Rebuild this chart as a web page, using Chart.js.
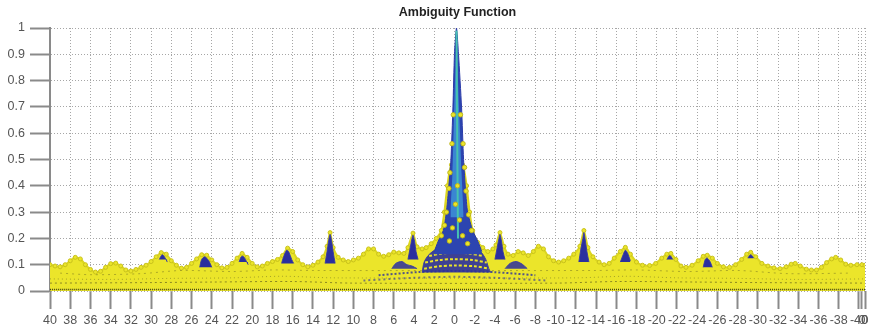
<!DOCTYPE html>
<html>
<head>
<meta charset="utf-8">
<script src="https://cdn.jsdelivr.net/npm/chart.js@4"></script>
<style>
  html, body { margin: 0; padding: 0; background: #fff; }
  #wrap { width: 882px; height: 331px; }
</style>
</head>
<body>
<div id="wrap"><canvas id="ambiguity" width="882" height="331"></canvas></div>
<script>
// Ambiguity function, side view (delay axis runs 40 .. -40)

const chartTitle = 'Ambiguity Function';

const xTickValues = [40, 38, 36, 34, 32, 30, 28, 26, 24, 22, 20, 18, 16, 14, 12, 10, 8, 6, 4, 2, 0,
  -2, -4, -6, -8, -10, -12, -14, -16, -18, -20, -22, -24, -26, -28, -30, -32, -34, -36, -38, -40, -40.3, -40.6];
const xTickLabels = ['40', '38', '36', '34', '32', '30', '28', '26', '24', '22', '20', '18', '16', '14', '12', '10', '8', '6', '4', '2', '0',
  '-2', '-4', '-6', '-8', '-10', '-12', '-14', '-16', '-18', '-20', '-22', '-24', '-26', '-28', '-30', '-32', '-34', '-36', '-38', '-40', '0', '0'];

// outline of the yellow side-lobe floor
const yellowEdge = [
  [40.0, 0.100], [39.5, 0.095], [39.0, 0.092], [38.5, 0.100], [38.0, 0.115], [37.5, 0.128], [37.0, 0.122],
  [36.5, 0.100], [36.0, 0.082], [35.5, 0.072], [35.0, 0.075], [34.5, 0.090], [34.0, 0.104], [33.5, 0.106],
  [33.0, 0.095], [32.5, 0.080], [32.0, 0.076], [31.5, 0.082], [31.0, 0.090], [30.5, 0.098], [30.0, 0.112],
  [29.5, 0.130], [29.0, 0.146], [28.5, 0.140], [28.0, 0.115], [27.5, 0.098], [27.0, 0.087], [26.5, 0.090],
  [26.0, 0.105], [25.5, 0.122], [25.0, 0.138], [24.5, 0.136], [24.0, 0.118], [23.5, 0.100], [23.0, 0.088],
  [22.5, 0.090], [22.0, 0.105], [21.5, 0.125], [21.0, 0.143], [20.5, 0.128], [20.0, 0.105], [19.5, 0.092],
  [19.0, 0.095], [18.5, 0.105], [18.0, 0.112], [17.5, 0.120], [17.0, 0.135], [16.5, 0.163], [16.0, 0.150],
  [15.5, 0.118], [15.0, 0.100], [14.5, 0.092], [14.0, 0.098], [13.5, 0.110], [13.0, 0.130], [12.6, 0.170],
  [12.3, 0.222], [12.0, 0.165], [11.5, 0.128], [11.0, 0.118], [10.5, 0.112], [10.0, 0.118], [9.5, 0.125],
  [9.0, 0.140], [8.5, 0.160], [8.0, 0.160], [7.5, 0.140], [7.0, 0.132], [6.5, 0.138], [6.0, 0.148],
  [5.5, 0.145], [5.0, 0.143], [4.6, 0.165], [4.1, 0.220], [3.7, 0.168], [3.2, 0.160], [2.8, 0.165],
  [2.3, 0.180], [1.8, 0.200], [1.3, 0.230], [1.0, 0.300], [0.7, 0.400], [0.3, 0.480], [-0.8, 0.480],
  [-1.2, 0.400], [-1.5, 0.300], [-1.8, 0.230], [-2.3, 0.185], [-2.8, 0.165], [-3.3, 0.150], [-3.8, 0.160],
  [-4.1, 0.175], [-4.5, 0.222], [-4.9, 0.170], [-5.3, 0.140], [-5.8, 0.135], [-6.3, 0.150], [-6.8, 0.145],
  [-7.3, 0.135], [-7.8, 0.150], [-8.3, 0.170], [-8.8, 0.160], [-9.3, 0.130], [-9.8, 0.115], [-10.3, 0.110],
  [-10.8, 0.115], [-11.3, 0.125], [-11.8, 0.140], [-12.4, 0.170], [-12.8, 0.230], [-13.2, 0.165], [-13.7, 0.130],
  [-14.3, 0.110], [-14.8, 0.100], [-15.3, 0.105], [-15.8, 0.125], [-16.4, 0.150], [-16.9, 0.166], [-17.4, 0.140],
  [-18.0, 0.110], [-18.6, 0.098], [-19.3, 0.097], [-19.9, 0.105], [-20.5, 0.125], [-21.0, 0.140], [-21.4, 0.143],
  [-21.9, 0.120], [-22.4, 0.095], [-22.9, 0.090], [-23.5, 0.098], [-24.1, 0.115], [-24.6, 0.132], [-25.0, 0.136],
  [-25.5, 0.125], [-26.0, 0.105], [-26.6, 0.092], [-27.2, 0.090], [-27.8, 0.100], [-28.4, 0.120], [-28.9, 0.140],
  [-29.3, 0.147], [-29.8, 0.130], [-30.4, 0.105], [-31.0, 0.095], [-31.6, 0.088], [-32.2, 0.085], [-32.8, 0.092],
  [-33.3, 0.102], [-33.7, 0.105], [-34.2, 0.095], [-34.8, 0.083], [-35.3, 0.080], [-35.8, 0.080], [-36.3, 0.090],
  [-36.8, 0.108], [-37.3, 0.122], [-37.7, 0.128], [-38.2, 0.118], [-38.7, 0.102], [-39.2, 0.098], [-39.8, 0.100],
  [-40.3, 0.100], [-40.6, 0.098]
];

// main lobe around zero delay
const mainLobe = [
  [2.0, 0.150], [1.6, 0.190], [1.1, 0.230], [0.8, 0.300], [0.6, 0.380], [0.35, 0.500], [0.15, 0.700],
  [0.0, 0.900], [-0.2, 1.000], [-0.4, 0.900], [-0.7, 0.700], [-0.9, 0.500], [-1.1, 0.380], [-1.3, 0.300],
  [-1.8, 0.230], [-2.3, 0.190], [-2.7, 0.150]
];
const mainLobeCore = [
  [0.4, 0.300], [0.2, 0.450], [0.05, 0.650], [-0.1, 0.850], [-0.2, 0.960], [-0.3, 0.850], [-0.5, 0.650],
  [-0.7, 0.450], [-0.9, 0.300]
];
const mainLobeRidge = [[-0.35, 0.20], [-0.3, 0.45], [-0.25, 0.70], [-0.22, 0.90], [-0.2, 0.99]];
const lobeDots = [
  [0.55, 0.39], [0.45, 0.45], [0.25, 0.56], [0.12, 0.67], [0.8, 0.30], [1.0, 0.25], [1.3, 0.21],
  [-0.6, 0.67], [-0.85, 0.56], [-1.0, 0.47], [-1.15, 0.38], [-1.4, 0.29], [-1.7, 0.23],
  [-0.3, 0.40], [-0.1, 0.33], [-0.5, 0.27], [0.2, 0.24], [-0.8, 0.21], [0.5, 0.19], [-1.3, 0.18]
];

// blue side-lobe peaks
const blueDome = [
  [3.2, 0.070], [3.0, 0.110], [2.6, 0.135], [2.1, 0.152], [1.6, 0.165], [1.0, 0.175], [-1.6, 0.175],
  [-2.2, 0.162], [-2.7, 0.145], [-3.1, 0.120], [-3.4, 0.085], [-3.6, 0.070]
];
const blueFlankLeft = [[6.2, 0.085], [5.8, 0.105], [5.2, 0.112], [4.7, 0.100], [4.2, 0.095], [3.7, 0.085]];
const blueFlankRight = [[-5.0, 0.085], [-5.5, 0.105], [-6.1, 0.112], [-6.7, 0.102], [-7.2, 0.085]];
const blueSpike12 = [[12.8, 0.105], [12.6, 0.15], [12.45, 0.19], [12.3, 0.215], [12.15, 0.19], [12.0, 0.15], [11.8, 0.105]];
const blueSpike4 = [[4.6, 0.12], [4.4, 0.16], [4.2, 0.20], [4.1, 0.212], [3.95, 0.19], [3.8, 0.15], [3.6, 0.12]];
const blueSpikeM4 = [[-4.0, 0.12], [-4.2, 0.16], [-4.4, 0.20], [-4.5, 0.215], [-4.65, 0.19], [-4.8, 0.15], [-5.0, 0.12]];
const blueSpikeM12 = [[-12.3, 0.11], [-12.5, 0.16], [-12.7, 0.20], [-12.8, 0.222], [-12.95, 0.19], [-13.1, 0.15], [-13.3, 0.11]];
const blueBlob16 = [[17.1, 0.105], [16.9, 0.13], [16.6, 0.155], [16.4, 0.15], [16.1, 0.12], [15.9, 0.105]];
const blueBlob21 = [[21.3, 0.11], [21.1, 0.13], [20.9, 0.132], [20.6, 0.115], [20.4, 0.10]];
const blueBlob24 = [[25.2, 0.09], [25.0, 0.12], [24.7, 0.13], [24.3, 0.115], [24.0, 0.09]];
const blueBlob29 = [[29.2, 0.12], [28.9, 0.138], [28.6, 0.125], [28.4, 0.11]];
const blueBlobM17 = [[-16.4, 0.11], [-16.7, 0.14], [-16.9, 0.155], [-17.1, 0.145], [-17.4, 0.115]];
const blueBlobM21 = [[-21.0, 0.12], [-21.3, 0.135], [-21.6, 0.12]];
const blueBlobM25 = [[-24.6, 0.09], [-24.8, 0.12], [-25.0, 0.125], [-25.3, 0.11], [-25.5, 0.09]];
const blueBlobM29 = [[-29.0, 0.125], [-29.3, 0.138], [-29.6, 0.125]];

// mesh rows seen through the surface
const domeRowA = [[3.0, 0.085], [1.5, 0.094], [0, 0.097], [-2, 0.094], [-3.4, 0.085]];
const domeRowB = [[2.9, 0.108], [1.5, 0.118], [0, 0.121], [-1.8, 0.118], [-3.2, 0.108]];
const domeRowC = [[2.5, 0.133], [1.2, 0.143], [0, 0.146], [-1.4, 0.143], [-2.8, 0.133]];
const domeRowD = [[2.0, 0.155], [0.8, 0.163], [-1.0, 0.163], [-2.2, 0.155]];
const centreRowDark = [[7.5, 0.060], [3.5, 0.072], [0, 0.076], [-3.8, 0.072], [-8, 0.060]];
const centreRowDark2 = [[9, 0.040], [4, 0.050], [0, 0.054], [-4, 0.050], [-9, 0.040]];
const meshFloor = [[40, 0.006], [-40.6, 0.006]];
const meshRowLow = [[40, 0.030], [30, 0.032], [24, 0.034], [16, 0.036], [10, 0.030], [-10, 0.030],
  [-16, 0.036], [-24, 0.034], [-30, 0.032], [-40.6, 0.030]];
const meshRowMid = [[40, 0.046], [34, 0.044], [28, 0.048], [22, 0.050], [17, 0.056], [12, 0.050],
  [-12, 0.050], [-17, 0.056], [-22, 0.050], [-28, 0.048], [-34, 0.044], [-40.6, 0.046]];
const meshRowHigh = [[39, 0.068], [36, 0.062], [31, 0.066], [27, 0.078], [22, 0.074], [18, 0.080], [14, 0.078],
  [-14, 0.078], [-18, 0.080], [-23, 0.074], [-28, 0.078], [-33, 0.066], [-39, 0.068]];

const YELLOW = '#ebe52a';
const BLUE = '#2b2f9e';

function pts(list) {
  return list.map(([x, y]) => ({ x, y }));
}

function blueArea(list, order, colour) {
  return {
    data: pts(list),
    fill: { value: list[0][1] },
    backgroundColor: colour || BLUE,
    borderColor: 'rgba(52,55,168,0.9)',
    borderWidth: 1,
    pointRadius: 0,
    tension: 0.3,
    order: order
  };
}

function meshLine(list, color, width, dash, order) {
  return {
    data: pts(list),
    fill: false,
    borderColor: color,
    borderWidth: width,
    borderDash: dash,
    pointRadius: 0,
    tension: 0.3,
    order: order
  };
}

const datasets = [
  {
    data: pts(yellowEdge),
    fill: { value: -0.01 },
    clip: { left: 0, top: 0, right: 0, bottom: 3 },
    backgroundColor: YELLOW,
    borderColor: '#dcd620',
    borderWidth: 2,
    pointRadius: 2,
    pointBackgroundColor: YELLOW,
    pointBorderColor: '#c9c21c',
    pointBorderWidth: 1,
    tension: 0.2,
    order: 20
  },
  meshLine(meshFloor, 'rgba(40,40,20,0.85)', 1.5, [1, 1], 18),
  meshLine(meshRowLow, 'rgba(60,60,30,0.55)', 1, [2, 3], 18),
  meshLine(meshRowMid, 'rgba(60,60,30,0.40)', 1, [1, 3], 18),
  meshLine(meshRowHigh, 'rgba(60,60,30,0.35)', 1, [2, 4], 18),
  meshLine(centreRowDark, 'rgba(43,47,158,0.8)', 2, [2, 2], 17),
  meshLine(centreRowDark2, 'rgba(43,47,158,0.6)', 2, [2, 3], 17),
  blueArea(blueFlankLeft, 15, 'rgba(43,47,158,0.85)'),
  blueArea(blueFlankRight, 15, 'rgba(43,47,158,0.85)'),
  blueArea(blueDome, 14, 'rgba(43,47,158,0.9)'),
  meshLine(domeRowA, YELLOW, 2, [3, 2], 13),
  meshLine(domeRowB, YELLOW, 2, [3, 2], 13),
  meshLine(domeRowC, YELLOW, 2, [3, 2], 13),
  meshLine(domeRowD, YELLOW, 1.5, [2, 2], 13),
  blueArea(blueSpike12, 12),
  blueArea(blueSpike4, 12),
  blueArea(blueSpikeM4, 12),
  blueArea(blueSpikeM12, 12),
  blueArea(blueBlob16, 12),
  blueArea(blueBlob21, 12),
  blueArea(blueBlob24, 12),
  blueArea(blueBlob29, 12),
  blueArea(blueBlobM17, 12),
  blueArea(blueBlobM21, 12),
  blueArea(blueBlobM25, 12),
  blueArea(blueBlobM29, 12),
  {
    data: pts(mainLobe),
    fill: { value: 0.14 },
    backgroundColor: '#2c45b0',
    borderColor: '#2a3aa8',
    borderWidth: 1,
    pointRadius: 0,
    tension: 0.2,
    order: 8
  },
  {
    data: pts(mainLobeCore),
    fill: { value: 0.28 },
    backgroundColor: '#3a86d2',
    borderWidth: 0,
    pointRadius: 0,
    tension: 0.2,
    order: 7
  },
  meshLine(mainLobeRidge, '#46c2b0', 2, [], 6),
  {
    data: pts(lobeDots),
    showLine: false,
    pointRadius: 2.2,
    pointBackgroundColor: YELLOW,
    pointBorderColor: '#bdb51c',
    pointBorderWidth: 1,
    order: 5
  }
];

const titlePlugin = {
  id: 'plotTitle',
  afterDraw(chart) {
    const { ctx, chartArea } = chart;
    ctx.save();
    ctx.font = 'bold 12.5px "Liberation Sans", Arial, sans-serif';
    ctx.fillStyle = '#222';
    ctx.textAlign = 'center';
    ctx.textBaseline = 'middle';
    ctx.fillText(chartTitle, (chartArea.left + chartArea.right) / 2, 12.5);
    ctx.restore();
  }
};

const tickFont = { family: '"Liberation Sans", Arial, sans-serif', size: 12.5 };

new Chart(document.getElementById('ambiguity'), {
  type: 'line',
  data: { datasets: datasets },
  plugins: [titlePlugin],
  options: {
    responsive: false,
    animation: false,
    layout: { padding: { top: 28, right: 17, left: 0, bottom: 0 } },
    plugins: {
      legend: { display: false },
      tooltip: { enabled: false },
      title: { display: false }
    },
    scales: {
      x: {
        type: 'linear',
        reverse: true,
        min: -40.6,
        max: 40,
        afterBuildTicks: (scale) => {
          scale.ticks = xTickValues.map(v => ({ value: v }));
        },
        afterFit: (scale) => { scale.height = 40; },
        ticks: {
          autoSkip: false,
          maxRotation: 0,
          minRotation: 0,
          padding: 4,
          color: '#555',
          font: tickFont,
          callback: (value, index) => xTickLabels[index]
        },
        grid: {
          color: '#a6a6a6',
          lineWidth: 1,
          tickColor: '#8a8a8a',
          tickWidth: 2,
          tickLength: 18,
          tickBorderDash: []
        },
        border: { display: false, dash: [1, 2] }
      },
      y: {
        min: 0,
        max: 1,
        afterFit: (scale) => { scale.width = 50; },
        ticks: {
          stepSize: 0.1,
          padding: 5,
          color: '#555',
          font: tickFont,
          callback: (value) => (value === 0 ? '0' : (Math.abs(value - 1) < 1e-9 ? '1' : value.toFixed(1)))
        },
        grid: {
          color: '#a6a6a6',
          lineWidth: 1,
          tickColor: '#8a8a8a',
          tickWidth: 2,
          tickLength: 20,
          tickBorderDash: []
        },
        border: { display: true, color: '#8a8a8a', width: 2, dash: [1, 2] }
      }
    }
  }
});
</script>
</body>
</html>
